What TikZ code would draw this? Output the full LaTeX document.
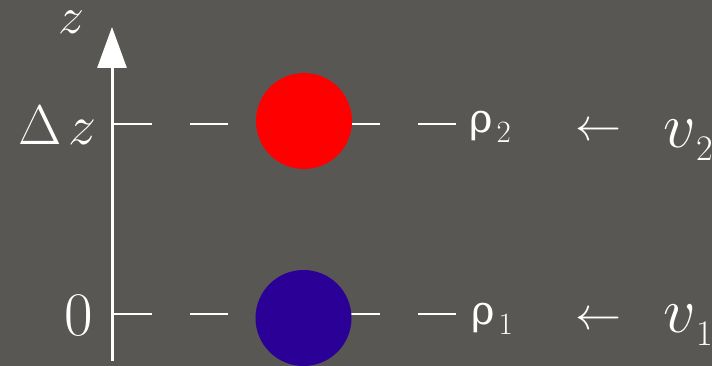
\RequirePackage{fix-cm}
\documentclass[tikz,border=0pt]{standalone}
\usepackage{fontspec}
\newfontfamily\grfont{DejaVu Serif}
\usetikzlibrary{arrows.meta}
\definecolor{board}{RGB}{88,87,83}
\definecolor{ballred}{RGB}{255,0,0}
\definecolor{ballblue}{RGB}{42,0,150}
\newcommand{\fs}[1]{\fontsize{#1}{#1}\selectfont}
\tikzset{
  lbl/.style={text=white, inner sep=0pt, anchor=base west},
  level/.style={draw=white, line width=1.5pt, dash pattern=on 38pt off 38pt},
  ball/.style={circle, inner sep=0pt, minimum size=96pt, draw=none},
  axis/.style={draw=white, line width=3pt, -{Triangle[length=41pt,width=29pt]}}
}
\begin{document}
\begin{tikzpicture}[x=1pt,y=-1pt]
\fill[board] (0,0) rectangle (712,366);
\useasboundingbox (0,0) rectangle (712,366);
% axis
\coordinate (axbot) at (112,361);
\coordinate (axtop) at (112,27);
\draw[axis] (axbot) -- (axtop);
% levels
\coordinate (l2a) at (114,124);
\coordinate (l2b) at (458,124);
\coordinate (l1a) at (114,314);
\coordinate (l1b) at (458,314);
\draw[level] (l2a) -- (l2b);
\draw[level] (l1a) -- (l1b);
% balls
\node[ball, fill=ballred] (b2) at (304,121) {};
\node[ball, fill=ballblue] (b1) at (303.5,318) {};
% axis labels
\node[lbl] (zlab) at (58,34) {\fs{52}$z$};
\node[lbl] (dz) at (18,145) {\fs{56}$\Delta$\hspace{7pt}$z$};
\node[lbl] (zero) at (64,335) {\fs{62}0};
% densities
\node[lbl] (rho2) at (469,133) {{\fs{40}\grfont ρ}\hspace{4pt}\raisebox{-10pt}{\fs{31}2}};
\node[lbl] (rho1) at (471,324) {{\fs{40}\grfont ρ}\hspace{4pt}\raisebox{-10pt}{\fs{31}1}};
% arrows
\node[lbl] (ar2) at (575,141) {\fs{46}$\leftarrow$};
\node[lbl] (ar1) at (575,329) {\fs{46}$\leftarrow$};
% velocities
\node[lbl] (v2) at (663,148) {\fs{64}$v$\hspace{1pt}\raisebox{-13pt}{\fs{36}2}};
\node[lbl] (v1) at (663,332) {\fs{64}$v$\hspace{1pt}\raisebox{-13pt}{\fs{36}1}};
\end{tikzpicture}
\end{document}
